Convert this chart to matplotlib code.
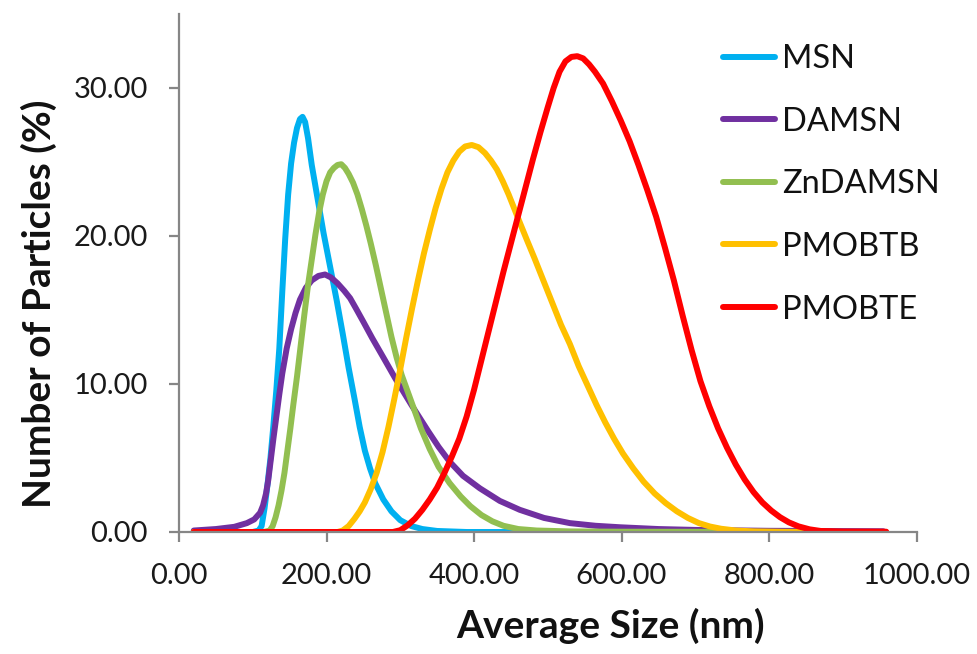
import matplotlib
matplotlib.use("Agg")
import matplotlib.pyplot as plt
from matplotlib.ticker import FuncFormatter

plt.rcParams['font.family'] = ['Lato', 'DejaVu Sans']

# ---- data ----
msn_x = [20, 100, 108, 112, 116, 120, 124, 128, 132, 136, 140, 144, 148, 152, 156, 160, 164, 167.5,
         171, 175, 180, 188, 196, 205, 214, 222, 230, 238, 245, 252, 259, 266, 277, 288, 300, 315,
         330, 350, 390, 955]
msn_y = [0, 0, 0.1, 0.4, 1.6, 3.2, 5.0, 7.2, 9.6, 12.4, 16.2, 19.8, 22.8, 24.9, 26.3, 27.3, 27.9, 28.05,
         27.7, 26.6, 24.8, 22.5, 20.2, 17.9, 15.6, 13.4, 11.1, 9.0, 7.1, 5.5, 4.3, 3.3, 2.2, 1.4, 0.8, 0.4,
         0.2, 0.07, 0, 0]

damsn_x = [20, 50, 75, 92, 102, 110, 114, 118, 121, 124, 128, 132, 136, 140, 146, 152, 158, 164, 172,
           180, 189, 198, 206, 215, 224, 232, 240, 250, 262, 277, 293, 315, 338, 352, 367, 385, 408,
           435, 462, 495, 530, 565, 598, 650, 700, 800, 955]
damsn_y = [0.1, 0.2, 0.35, 0.6, 0.85, 1.3, 1.8, 2.6, 3.5, 4.7, 6.3, 7.8, 9.3, 10.7, 12.4, 13.7, 14.8, 15.7, 16.5,
           17.0, 17.3, 17.4, 17.2, 16.8, 16.3, 15.8, 15.1, 14.2, 13.1, 11.8, 10.4, 8.6, 6.8, 5.75, 4.75, 3.8, 2.95,
           2.1, 1.5, 0.95, 0.6, 0.42, 0.32, 0.2, 0.14, 0.08, 0.05]

zn_x = [20, 115, 123, 127, 131, 135, 139, 143, 147, 151, 155, 160, 165, 170, 175, 180, 185, 190, 195,
        200, 205, 210, 215, 220, 225, 230, 236, 242, 248, 254, 260, 267, 274, 281, 288, 295, 302, 310,
        318, 328, 340, 352, 367, 382, 395, 410, 425, 440, 460, 485, 530, 600, 955]
zn_y = [0, 0, 0.1, 0.4, 1.0, 1.8, 2.8, 4.0, 5.5, 7.0, 8.6, 10.5, 12.6, 14.7, 16.7, 18.4, 20.1, 21.6, 22.8,
        23.7, 24.3, 24.6, 24.8, 24.85, 24.6, 24.2, 23.6, 22.8, 21.8, 20.7, 19.5, 18.0, 16.4, 14.8, 13.2, 11.8, 10.6, 9.5,
        8.4, 7.0, 5.6, 4.4, 3.3, 2.4, 1.75, 1.15, 0.72, 0.42, 0.2, 0.1, 0.04, 0.02, 0]

tb_x = [20, 215, 222, 230, 238, 245, 252, 260, 268, 276, 284, 292, 300, 308, 316, 324, 332, 340, 348,
        356, 364, 372, 380, 388, 397, 406, 415, 423, 431, 439, 447, 455, 463, 472, 482, 494, 506, 518,
        530, 542, 554, 566, 578, 590, 602, 616, 630, 645, 660, 675, 690, 705, 720, 735, 755, 780, 820,
        870, 955]
tb_y = [0, 0, 0.1, 0.4, 0.9, 1.4, 2.0, 2.9, 4.0, 5.4, 7.1, 9.0, 11.0, 13.1, 15.1, 17.0, 18.8, 20.4, 21.9,
        23.2, 24.3, 25.1, 25.7, 26.05, 26.15, 26.0, 25.6, 25.1, 24.5, 23.7, 22.8, 21.8, 20.8, 19.7, 18.5, 17.0, 15.5, 14.0,
        12.7, 11.2, 9.9, 8.6, 7.4, 6.3, 5.3, 4.3, 3.4, 2.6, 1.95, 1.4, 0.95, 0.6, 0.37, 0.22, 0.1, 0.04, 0.01,
        0, 0]

te_x = [20, 290, 300, 310, 320, 330, 340, 350, 360, 370, 380, 390, 400, 410, 420, 430, 440, 450, 460,
        470, 480, 490, 500, 508, 516, 524, 532, 540, 548, 556, 564, 575, 587, 599, 611, 623, 635, 647,
        659, 671, 683, 695, 707, 719, 731, 743, 755, 767, 779, 791, 803, 815, 827, 840, 855, 870, 900, 959]
te_y = [0, 0, 0.12, 0.45, 0.9, 1.5, 2.2, 3.0, 4.0, 5.1, 6.3, 7.8, 9.6, 11.6, 13.6, 15.6, 17.6, 19.5, 21.4,
        23.3, 25.2, 27.0, 28.7, 30.0, 31.1, 31.8, 32.1, 32.15, 32.0, 31.6, 31.1, 30.3, 29.1, 27.8, 26.4, 24.8, 23.1, 21.3,
        19.2, 17.0, 14.6, 12.3, 10.2, 8.5, 7.0, 5.7, 4.55, 3.55, 2.7, 2.0, 1.45, 1.0, 0.65, 0.38, 0.18, 0.07, 0.03, 0.02]

series = [
    ("MSN", msn_x, msn_y, "#00B0F0"),
    ("DAMSN", damsn_x, damsn_y, "#7030A0"),
    ("ZnDAMSN", zn_x, zn_y, "#92BF50"),
    ("PMOBTB", tb_x, tb_y, "#FFC000"),
    ("PMOBTE", te_x, te_y, "#FF0000"),
]

x_ticks = [0, 200, 400, 600, 800, 1000]
y_ticks = [0, 10, 20, 30]

fig = plt.figure(figsize=(9.77, 6.54), dpi=100)
ax = fig.add_axes([179/977, 1 - 532/654, (916.5 - 179)/977, (532 - 14)/654])

for name, xs, ys, c in series:
    ax.plot(xs, ys, color=c, lw=4.3, label=name, solid_capstyle='round', solid_joinstyle='round')

ax.set_xlim(0, 1000)
ax.set_ylim(0, 35)
ax.set_xticks(x_ticks)
ax.set_yticks(y_ticks)
fmt = FuncFormatter(lambda v, p: f"{v:.2f}")
ax.xaxis.set_major_formatter(fmt)
ax.yaxis.set_major_formatter(fmt)

for s in ['top', 'right']:
    ax.spines[s].set_visible(False)
for s in ['left', 'bottom']:
    ax.spines[s].set_color('#868686')
    ax.spines[s].set_linewidth(1.6)
ax.tick_params(axis='both', direction='out', length=7.5, width=1.6, color='#868686',
               labelsize=21, labelcolor='#1a1a1a', pad=15)

fig.text(39/977, 1 - 304/654, "Number of Particles (%)", rotation=90, ha='center', va='center',
         fontsize=28, fontweight='bold', color='#111111')
fig.text(611/977, 1 - 626/654, "Average Size (nm)", ha='center', va='center',
         fontsize=28, fontweight='bold', color='#111111')

leg = ax.legend(loc='upper left', bbox_to_anchor=(723/977, 1 - 44/654), bbox_transform=fig.transFigure,
                frameon=False, fontsize=23.5, handlelength=1.6, handletextpad=0.2,
                labelspacing=1.0, borderaxespad=0, borderpad=0)
for t in leg.get_texts():
    t.set_color('#111111')

fig.savefig("out.png", dpi=100)
